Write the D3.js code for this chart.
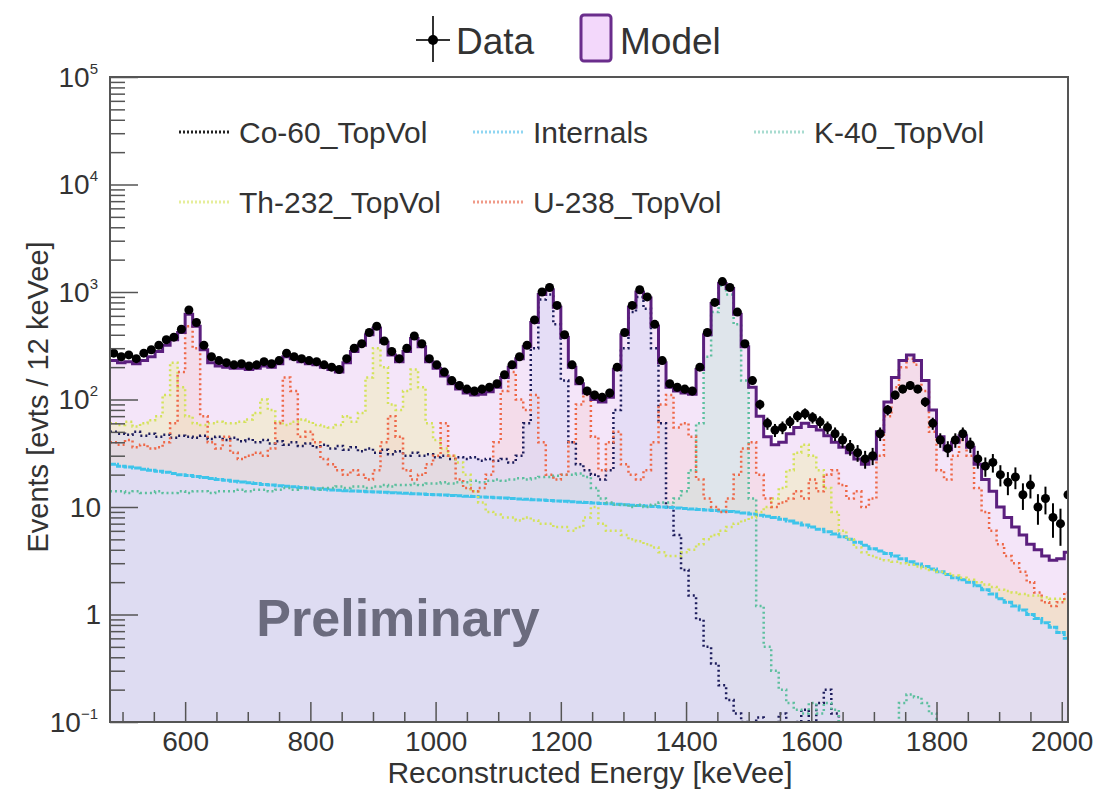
<!DOCTYPE html>
<html lang="en">
<head>
<meta charset="utf-8">
<title>Reconstructed energy spectrum</title>
<script src="https://cdn.jsdelivr.net/npm/d3@7"></script>
<style>
  body { margin: 0; background: #fff; }
  svg text { font-family: "Liberation Sans", Arial, sans-serif; fill: #333; }
</style>
</head>
<body>
<script>
// 12 keV bins, first bin starts at 480 keVee
var binStart = 480, binWidth = 12;

// data counts per bin (rows of 16 bins: 486, 678, 870, 1062, 1254, 1446, 1638, 1830 keV)
var dataCounts = [
  270, 250, 260, 240, 270, 290, 320, 360, 380, 450, 680, 520, 320, 250, 230, 220,
  210, 215, 205, 210, 225, 215, 230, 270, 250, 240, 230, 225, 210, 200, 190, 240,
  300, 330, 420, 480, 350, 280, 240, 300, 390, 330, 240, 210, 180, 150, 135, 125,
  120, 125, 130, 140, 170, 210, 250, 320, 550, 1000, 1100, 750, 400, 210, 150, 120,
  110, 105, 115, 200, 420, 750, 1050, 900, 500, 230, 140, 130, 125, 120, 200, 420,
  800, 1250, 1100, 650, 330, 150, 90, 60, 52, 55, 62, 70, 74, 68, 62, 55,
  48, 42, 36, 32, 28, 30, 48, 80, 110, 125, 135, 125, 95, 60, 42, 35,
  42, 48, 38, 28, 24, 26, 20, 17, 19, 13, 16, 10, 12, 8, 7, 13
];

var modelCounts = [
  230, 220, 225, 215, 230, 250, 280, 320, 360, 420, 620, 480, 290, 220, 205, 200,
  195, 195, 190, 195, 205, 200, 215, 250, 240, 225, 215, 210, 200, 190, 180, 220,
  280, 320, 400, 460, 340, 260, 225, 280, 370, 310, 225, 195, 165, 140, 125, 115,
  110, 112, 118, 130, 160, 200, 240, 310, 520, 950, 1050, 720, 380, 200, 140, 115,
  100, 95, 105, 190, 400, 720, 1000, 880, 480, 220, 130, 120, 115, 112, 190, 400,
  780, 1200, 1080, 620, 310, 130, 70, 45, 38, 40, 48, 55, 60, 56, 52, 46,
  40, 36, 32, 28, 25, 28, 50, 95, 160, 230, 260, 230, 150, 80, 45, 34,
  40, 46, 36, 25, 18, 14, 10, 8, 6.5, 5.5, 4.5, 4, 3.5, 3.2, 3.3, 3.8
];

var co60 = [
  50, 48, 47, 50, 46, 48, 45, 47, 44, 46, 45, 44, 46, 43, 45, 42,
  44, 41, 43, 40, 42, 39, 41, 38, 40, 37, 39, 36, 38, 35, 37, 34,
  36, 33, 35, 32, 34, 31, 33, 30, 32, 30, 31, 29, 30, 28, 29, 28,
  29, 27, 28, 27, 28, 26, 30, 60, 300, 850, 950, 500, 150, 40, 25, 22,
  20, 18, 22, 80, 300, 650, 900, 700, 300, 60, 10, 5.5, 2.6, 1.5, 0.9, 0.5,
  0.35, 0.22, 0.16, 0.12, 0.1, 0, 0.11, 0, 0, 0.12, 0, 0.1, 0.13, 0, 0.15, 0.2,
  0.12, 0, 0, 0, 0, 0, 0, 0, 0, 0, 0, 0, 0, 0, 0, 0,
  0, 0, 0, 0, 0, 0, 0, 0, 0, 0, 0, 0, 0, 0, 0, 0
];

var internals = [
  25, 24, 23.5, 23, 22.5, 22, 21.5, 21, 20.5, 20, 19.6, 19.2, 18.8, 18.4, 18, 17.7,
  17.4, 17.1, 16.8, 16.5, 16.2, 16, 15.8, 15.6, 15.4, 15.2, 15, 14.8, 14.6, 14.4, 14.3, 14.2,
  14.1, 14, 13.9, 13.8, 13.7, 13.6, 13.5, 13.4, 13.3, 13.2, 13.1, 13, 12.9, 12.8, 12.7, 12.6,
  12.5, 12.4, 12.3, 12.2, 12.1, 12, 11.9, 11.8, 11.7, 11.6, 11.5, 11.4, 11.3, 11.2, 11.1, 11,
  10.9, 10.8, 10.7, 10.6, 10.5, 10.4, 10.3, 10.2, 10.1, 10, 9.9, 9.8, 9.7, 9.6, 9.5, 9.4,
  9.3, 9.2, 9.1, 9, 8.8, 8.6, 8.4, 8.2, 8, 7.7, 7.4, 7.1, 6.8, 6.5, 6.2, 5.9,
  5.6, 5.3, 5, 4.7, 4.4, 4.1, 3.9, 3.7, 3.5, 3.3, 3.1, 2.95, 2.8, 2.65, 2.5, 2.35,
  2.2, 2.1, 2, 1.85, 1.7, 1.55, 1.4, 1.3, 1.2, 1.1, 1, 0.92, 0.84, 0.76, 0.68, 0.6
];

var k40 = [
  14, 14, 13.5, 14, 13.5, 13.5, 14, 13.5, 13.5, 14, 13.5, 14, 14, 13.5, 14, 14,
  14, 14.5, 14, 14.5, 14.5, 14, 14.5, 15, 14.5, 15, 15, 14.5, 15, 15, 15.5, 15,
  15.5, 15.5, 15, 15.5, 16, 15.5, 16, 16, 16.5, 16, 16.5, 16.5, 17, 16.5, 17, 17,
  17.5, 17, 17.5, 18, 17.5, 18, 18.5, 18, 18.5, 19, 19, 19.5, 20, 20, 20.5, 19,
  15, 12, 11, 10.5, 10.5, 10, 10.5, 10, 10.5, 11, 11, 12, 14, 22, 60, 250,
  650, 1150, 950, 500, 150, 12, 1.2, 0.5, 0.3, 0.2, 0.15, 0.13, 0.12, 0.15, 0.12, 0.15,
  0.13, 0.1, 0, 0, 0, 0, 0, 0, 0, 0.15, 0.18, 0.17, 0.15, 0.12, 0, 0,
  0, 0, 0, 0, 0, 0, 0, 0, 0, 0, 0, 0, 0, 0, 0, 0
];

var th232 = [
  60, 58, 62, 56, 60, 64, 70, 110, 220, 130, 70, 60, 58, 60, 62, 60,
  60, 62, 65, 75, 100, 80, 62, 58, 62, 65, 62, 58, 56, 55, 58, 70,
  62, 75, 160, 300, 200, 90, 80, 120, 190, 130, 60, 42, 35, 30, 26, 20,
  14, 11, 9, 8.5, 8, 8, 7.5, 8, 7.5, 7, 7, 6.5, 6.5, 6, 6.5, 8,
  10, 7, 6, 6, 5.5, 5, 4.8, 4.5, 4.2, 3.8, 3.5, 3.5, 3.8, 4, 4.5, 5,
  5.5, 6, 6.5, 7, 7.5, 8, 9, 10, 12, 15, 22, 32, 38, 30, 22, 15,
  9, 6, 5, 4.2, 3.8, 3.5, 3.3, 3.2, 3.1, 3, 2.9, 2.8, 2.7, 2.6, 2.5, 2.4,
  2.3, 2.2, 2.1, 2, 1.9, 1.8, 1.7, 1.65, 1.6, 1.55, 1.5, 1.5, 1.45, 1.4, 1.4, 1.35
];

var u238 = [
  40, 38, 42, 36, 38, 35, 36, 40, 60, 180, 480, 300, 70, 40, 35, 45,
  32, 28, 30, 32, 30, 35, 60, 160, 120, 45, 50, 40, 28, 25, 22, 20,
  22, 20, 18, 22, 40, 70, 45, 22, 18, 20, 25, 30, 60, 30, 18, 15,
  14, 15, 20, 40, 120, 180, 100, 80, 110, 40, 20, 18, 20, 40, 90, 110,
  45, 22, 40, 50, 25, 20, 18, 22, 40, 90, 110, 55, 60, 45, 18, 12,
  10, 9, 12, 20, 35, 40, 20, 12, 10, 11, 12, 14, 12, 18, 14, 20,
  22, 16, 12, 14, 10, 12, 30, 70, 130, 200, 240, 210, 120, 50, 22, 18,
  30, 42, 30, 15, 9, 6, 4.5, 3.5, 3, 2.5, 2, 1.6, 1.3, 1.2, 1.3, 1.6
];

var xTicks = [600, 800, 1000, 1200, 1400, 1600, 1800, 2000];
var yDecades = [-1, 0, 1, 2, 3, 4, 5];

var components = [
  {name: "Co-60_TopVol", vals: co60, color: "#1c1c5c", key: "#222", fill: "#d6d6f4", op: 0.5},
  {name: "Internals", vals: internals, color: "#3ec4ea", key: "#8fd6f2", fill: "#dedcf6", op: 0.8},
  {name: "K-40_TopVol", vals: k40, color: "#5cbf9e", key: "#a8dcd0", fill: "#9fe8c4", op: 0.25},
  {name: "Th-232_TopVol", vals: th232, color: "#d4e25a", key: "#e6ee9a", fill: "#eef29a", op: 0.35},
  {name: "U-238_TopVol", vals: u238, color: "#ee6848", key: "#f09a88", fill: "#f6b8b0", op: 0.2}
];
// fill drawing order: Th, U, K-40, Co, Internals
var fillOrder = [3, 4, 2, 0, 1];

var W = 1101, H = 791;
var pL = 110, pR = 1068, pT = 77, pB = 722;

var svg = d3.select("body").append("svg").attr("width", W).attr("height", H);

var x = d3.scaleLinear().domain([480, 2010]).range([pL, pR]);
var y = d3.scaleLog().domain([0.1, 1e5]).range([pB, pT]);

svg.append("defs").append("clipPath").attr("id", "plotclip")
  .append("rect").attr("x", pL).attr("y", pT).attr("width", pR - pL).attr("height", pB - pT);

var plot = svg.append("g").attr("clip-path", "url(#plotclip)");

// step outline of a histogram
function stepPoints(vals) {
  var pts = [];
  vals.forEach(function(v, i) {
    var lo = binStart + i * binWidth, hi = lo + binWidth;
    var vv = v > 0 ? v : 0.05;
    pts.push([x(lo), y(vv)]);
    pts.push([x(hi), y(vv)]);
  });
  return pts;
}
var line = d3.line();
var area = d3.area().x(function(p) { return p[0]; }).y0(pB + 5).y1(function(p) { return p[1]; });

// model fill
plot.append("path").attr("d", area(stepPoints(modelCounts))).attr("fill", "#f4e5f9");

// component fills
fillOrder.forEach(function(i) {
  var c = components[i];
  plot.append("path").attr("d", area(stepPoints(c.vals)))
    .attr("fill", c.fill).attr("fill-opacity", c.op);
});

// component dotted lines
components.forEach(function(c) {
  plot.append("path").attr("d", line(stepPoints(c.vals)))
    .attr("fill", "none").attr("stroke", c.color)
    .attr("stroke-width", c.name === "Internals" ? 3 : 2.5)
    .attr("stroke-dasharray", c.name === "Internals" ? "6,1" : "2,3");
});

// model outline
plot.append("path").attr("d", line(stepPoints(modelCounts)))
  .attr("fill", "none").attr("stroke", "#5b1f7e").attr("stroke-width", 3);

// data points with errors
var pts = plot.append("g");
dataCounts.forEach(function(n, i) {
  var lo = binStart + i * binWidth, c = lo + binWidth / 2, e = Math.sqrt(n);
  pts.append("line").attr("x1", x(lo)).attr("x2", x(lo + binWidth)).attr("y1", y(n)).attr("y2", y(n))
    .attr("stroke", "#000").attr("stroke-width", 2.5);
  pts.append("line").attr("x1", x(c)).attr("x2", x(c)).attr("y1", y(n + e)).attr("y2", y(Math.max(n - e, 0.05)))
    .attr("stroke", "#000").attr("stroke-width", 2);
  pts.append("circle").attr("cx", x(c)).attr("cy", y(n)).attr("r", 4.5).attr("fill", "#000");
});

// Preliminary label
svg.append("text").attr("x", 398).attr("y", 636).attr("text-anchor", "middle")
  .style("font-size", "52px").style("font-weight", "bold").style("fill", "#6b6b7e")
  .text("Preliminary");

// axes
var minorX = d3.range(500, 2011, 50).filter(function(v) { return v % 200 !== 0; });
svg.append("g").attr("transform", "translate(0," + pB + ")")
  .call(d3.axisBottom(x).tickValues(minorX).tickSizeInner(-10).tickSizeOuter(0).tickFormat(""))
  .call(function(g) { g.select(".domain").remove(); g.selectAll("line").attr("stroke", "#555").attr("stroke-width", 1.5); });
var xAxis = svg.append("g").attr("transform", "translate(0," + pB + ")")
  .call(d3.axisBottom(x).tickValues(xTicks).tickSizeInner(-20).tickSizeOuter(0).tickPadding(9).tickFormat(d3.format("d")));
xAxis.select(".domain").remove();
xAxis.selectAll("line").attr("stroke", "#555").attr("stroke-width", 1.5);
xAxis.selectAll("text").style("font-size", "28px").attr("fill", "#333");

var minorY = [];
yDecades.forEach(function(d) {
  if (d < 5) for (var m = 2; m <= 9; m++) minorY.push(m * Math.pow(10, d));
});
svg.append("g").attr("transform", "translate(" + pL + ",0)")
  .call(d3.axisLeft(y).tickValues(minorY).tickSizeInner(-15).tickSizeOuter(0).tickFormat(""))
  .call(function(g) { g.select(".domain").remove(); g.selectAll("line").attr("stroke", "#555").attr("stroke-width", 1.5); });
svg.append("g").attr("transform", "translate(" + pL + ",0)")
  .call(d3.axisLeft(y).tickValues(yDecades.map(function(d) { return Math.pow(10, d); })).tickSizeInner(-28).tickSizeOuter(0).tickFormat(""))
  .call(function(g) { g.select(".domain").remove(); g.selectAll("line").attr("stroke", "#555").attr("stroke-width", 1.5); });

// y tick labels in ROOT style
yDecades.forEach(function(d) {
  var t = svg.append("text").attr("y", y(Math.pow(10, d))).attr("dy", "0.35em")
    .attr("text-anchor", "end").style("font-size", "28px");
  if (d === 0 || d === 1) {
    t.attr("x", 101).text(d === 0 ? "1" : "10");
  } else {
    t.attr("x", 98);
    t.append("tspan").text("10");
    t.append("tspan").attr("dy", -13).style("font-size", "15px").text(d < 0 ? "\u22121" : String(d));
  }
});

// frame
svg.append("rect").attr("x", pL).attr("y", pT).attr("width", pR - pL).attr("height", pB - pT)
  .attr("fill", "none").attr("stroke", "#555").attr("stroke-width", 2);

// axis titles
svg.append("text").attr("x", 590).attr("y", 783).attr("text-anchor", "middle")
  .style("font-size", "30px").text("Reconstructed Energy [keVee]");
svg.append("text").attr("transform", "translate(48,397) rotate(-90)").attr("text-anchor", "middle")
  .style("font-size", "29px").text("Events [evts / 12 keVee]");

// top legend
var lg = svg.append("g");
lg.append("line").attr("x1", 433).attr("x2", 433).attr("y1", 16).attr("y2", 62).attr("stroke", "#333").attr("stroke-width", 2);
lg.append("line").attr("x1", 416).attr("x2", 450).attr("y1", 40).attr("y2", 40).attr("stroke", "#333").attr("stroke-width", 2);
lg.append("circle").attr("cx", 433).attr("cy", 40).attr("r", 5).attr("fill", "#000");
lg.append("text").attr("x", 456).attr("y", 54).style("font-size", "37px").text("Data");
lg.append("rect").attr("x", 581).attr("y", 15).attr("width", 30).attr("height", 46).attr("rx", 3)
  .attr("fill", "#f3d8fb").attr("stroke", "#6a2d8c").attr("stroke-width", 3);
lg.append("text").attr("x", 620).attr("y", 54).style("font-size", "37px").text("Model");

// component legend inside frame
var legPos = [[179, 132], [473, 132], [754, 132], [179, 202], [473, 202]];
components.forEach(function(c, i) {
  var p = legPos[i];
  svg.append("line").attr("x1", p[0]).attr("x2", p[0] + 51).attr("y1", p[1]).attr("y2", p[1])
    .attr("stroke", c.key).attr("stroke-width", 3).attr("stroke-dasharray", "2,2");
  svg.append("text").attr("x", p[0] + 60).attr("y", p[1]).attr("dy", "0.35em")
    .style("font-size", "30px").text(c.name);
});
</script>
</body>
</html>
